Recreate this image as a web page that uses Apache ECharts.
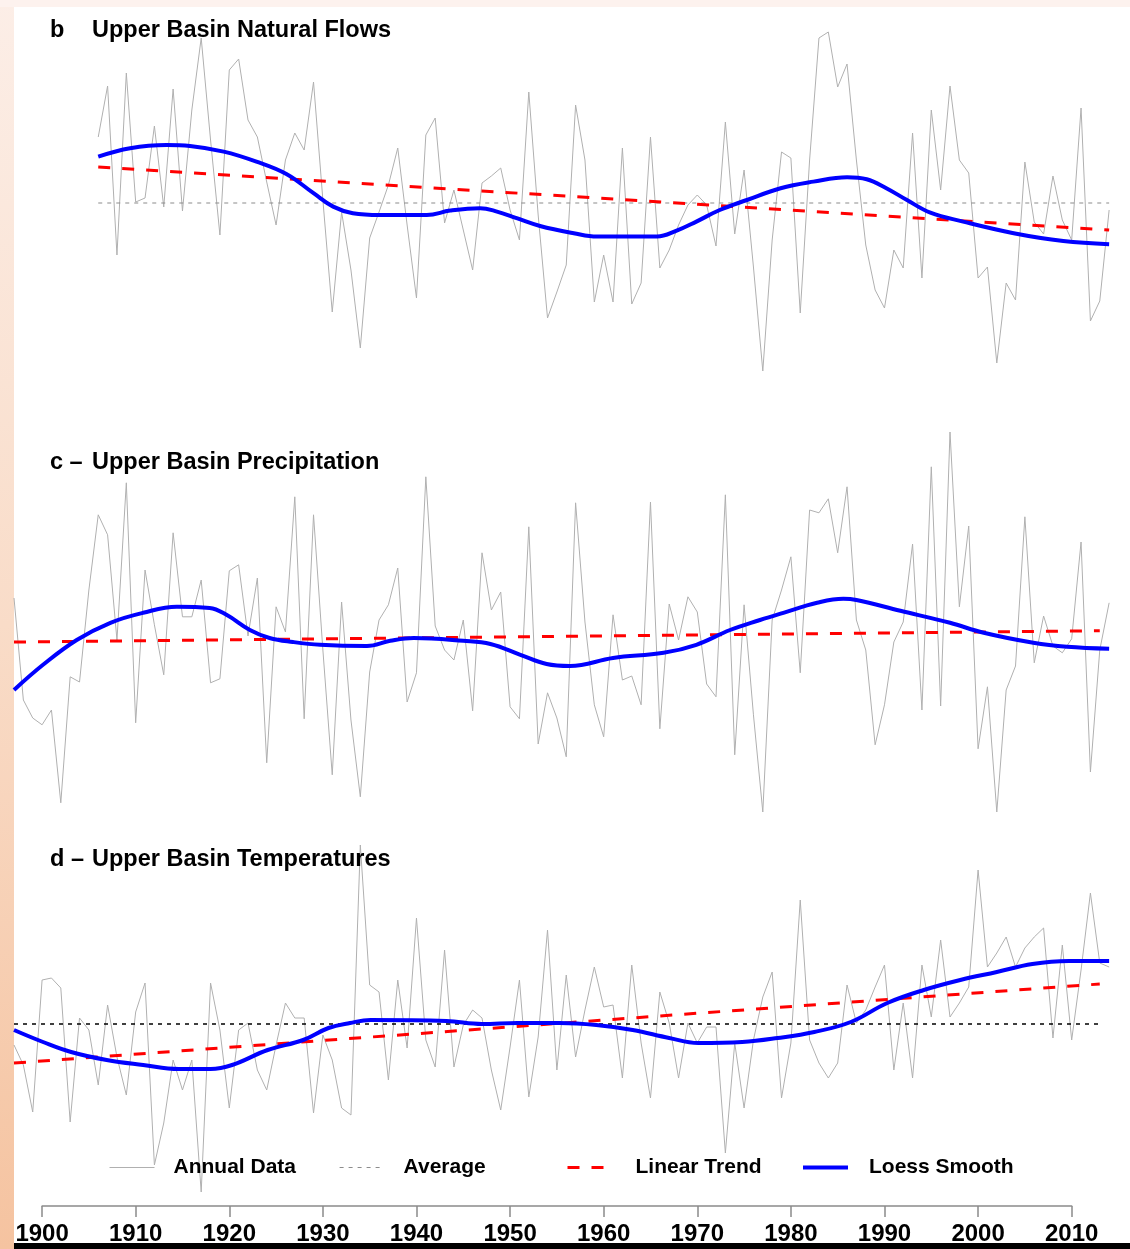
<!DOCTYPE html>
<html>
<head>
<meta charset="utf-8">
<script src="https://cdn.jsdelivr.net/npm/echarts@6/dist/echarts.min.js"></script>
<style>
html,body{margin:0;padding:0;}
body{width:1130px;height:1249px;position:relative;overflow:hidden;
  background:linear-gradient(to bottom,#FCEEE7 0%,#F9DCC8 50%,#F5C3A0 100%);}
#topstrip{position:absolute;left:0;top:0;width:1130px;height:7px;background:#FDF2EE;}
#bg{position:absolute;left:14px;top:7px;width:1116px;height:1242px;background:#ffffff;}
#chart{position:absolute;left:0;top:0;width:1130px;height:1249px;}
</style>
</head>
<body>
<div id="topstrip"></div>
<div id="bg"></div>
<div id="chart"></div>
<script>
// ---------- DATA ----------
// b - Upper Basin natural flows (MAF), 1906-2014
const flowStart = 1906;
const flowMAF = [
  18.30,20.85,12.40,21.50,15.05,15.25,18.85,14.80,20.70,14.60,
  19.65,23.25,18.15,13.40,21.65,22.20,19.15,18.30,16.05,13.90,
  17.15,18.50,17.65,21.05,15.15,9.55,14.55,11.65,7.75,13.25,
  14.55,15.90,17.75,13.90,10.25,18.40,19.25,14.00,15.65,13.65,
  11.65,16.00,16.35,16.75,14.65,13.15,20.55,14.40,9.25,10.55,
  11.90,19.90,17.15,10.05,12.40,10.05,17.75,9.95,11.00,18.30,
  11.75,12.65,13.90,14.90,15.40,14.90,12.85,19.05,13.45,16.65,
  11.80,6.60,13.15,17.55,17.25,9.50,17.15,23.25,23.55,20.80,
  21.95,17.15,12.90,10.65,9.75,12.65,11.75,18.50,11.25,19.65,
  15.65,20.85,17.15,16.50,11.25,11.80,7.00,11.00,10.15,17.05,
  14.05,13.45,16.35,14.15,13.15,19.75,9.10,10.10,14.65
];
const flowLoessYears = [1906,1909.4,1913.3,1915.8,1919.4,1922.9,1926.1,1929.0,1931.1,1933.2,1936.1,1941.1,1943.6,1946.8,1948.6,1950.7,1953.2,1956.8,1959.3,1965.7,1967.8,1969.9,1972.4,1975.3,1978.9,1982.4,1986.0,1988.1,1990.2,1992.4,1994.9,1998.4,2003.8,2009.1,2014];
const flowLoess = [17.32,17.74,17.90,17.85,17.57,17.07,16.45,15.49,14.82,14.49,14.40,14.40,14.62,14.74,14.57,14.24,13.85,13.49,13.32,13.32,13.62,14.07,14.65,15.15,15.74,16.07,16.29,16.19,15.74,15.15,14.52,14.07,13.49,13.10,12.94];
const flowTrendYears = [1906, 2014];
const flowTrend = [16.80, 13.65];
const flowAvgYears = [1906, 2014];
const flowAvg = [15.0, 15.0];

// c - Upper Basin precipitation (in), 1897-2014
const precipStart = 1897;
const precipIn = [
  17.05,14.50,14.05,13.88,14.25,11.93,15.08,14.95,17.25,19.13,
  18.63,16.00,19.93,13.93,17.75,16.38,15.13,18.68,16.58,16.58,
  17.50,14.93,15.03,17.73,17.88,16.10,17.55,12.93,16.83,16.20,
  19.58,14.03,19.13,15.75,12.63,16.95,14.00,12.08,15.20,16.50,
  16.88,17.80,14.45,15.18,20.08,16.35,15.75,15.50,16.50,14.23,
  18.18,16.75,17.20,14.33,14.03,18.83,13.40,14.68,14.05,13.08,
  19.43,16.45,14.38,13.58,16.63,15.00,15.10,14.38,19.45,13.78,
  16.90,16.00,17.08,16.70,14.90,14.58,19.63,13.13,16.88,14.13,
  11.70,16.50,17.25,18.08,15.18,19.25,19.18,19.53,18.18,19.83,
  16.50,15.75,13.38,14.38,15.95,16.45,18.40,14.25,20.33,14.35,
  21.20,16.83,18.85,13.28,14.83,11.70,14.75,15.35,19.08,15.43,
  16.60,15.85,15.68,16.03,18.45,12.70,15.75,16.93
];
const precipLoessYears = [1897.0,1900.1,1903.7,1907.3,1910.8,1914.4,1917.9,1919.7,1922.2,1924.3,1926.8,1929.7,1934.7,1937.2,1939.7,1945.0,1947.9,1951.1,1953.9,1956.4,1961.0,1966.4,1969.9,1973.5,1976.7,1979.2,1982.8,1985.6,1987.0,1991.7,1997.0,2000.6,2005.9,2009.5,2014];
const precipLoess = [14.75,15.38,16.00,16.43,16.68,16.83,16.80,16.63,16.25,16.05,15.95,15.88,15.85,15.98,16.05,15.98,15.90,15.63,15.40,15.35,15.55,15.68,15.88,16.25,16.50,16.68,16.93,17.03,17.00,16.73,16.43,16.18,15.93,15.83,15.78];
const precipTrendYears = [1897, 2013];
const precipTrend = [15.95, 16.23];

// d - Upper Basin temperatures (deg F), 1897-2014
const tempStart = 1897;
const tempF = [
  39.58,39.18,38.24,40.88,40.92,40.72,38.04,40.12,39.88,38.78,
  40.38,39.34,38.58,40.24,40.82,37.18,38.02,39.28,38.68,39.28,
  36.64,40.82,39.88,38.32,39.88,40.02,39.08,38.68,39.58,40.42,
  40.12,40.12,38.22,39.78,39.28,38.32,38.18,43.58,40.78,40.64,
  38.88,40.88,39.52,42.12,39.68,39.14,41.48,39.14,39.98,40.28,
  40.12,39.08,38.28,39.54,40.88,38.54,39.74,41.88,39.08,40.98,
  39.34,40.28,41.14,40.34,40.38,38.92,41.18,39.62,38.52,40.64,
  40.02,38.92,40.02,39.62,39.94,39.94,37.42,39.62,38.32,39.68,
  40.54,41.04,38.52,39.62,42.48,39.68,39.22,38.92,39.22,40.78,
  40.02,40.28,40.74,41.18,39.08,40.42,38.92,41.18,40.14,41.68,
  40.14,40.42,40.74,43.08,41.14,41.42,41.74,41.14,41.52,41.74,
  41.92,39.72,41.58,39.68,41.08,42.62,41.22,41.14
];
const tempLoessYears = [1897.0,1900.1,1903.1,1906.9,1910.8,1914.6,1918.0,1920.3,1924.1,1927.9,1930.6,1932.9,1935.1,1943.2,1947.0,1950.8,1955.3,1959.2,1963.1,1967.0,1970.1,1974.8,1978.6,1982.5,1986.4,1990.3,1994.2,1998.1,2002.0,2005.8,2009.7,2014];
const tempLoess = [39.88,39.64,39.44,39.28,39.18,39.10,39.10,39.18,39.48,39.68,39.92,40.02,40.08,40.06,40.00,40.02,40.02,39.98,39.88,39.72,39.62,39.64,39.72,39.84,40.04,40.42,40.68,40.88,41.04,41.20,41.26,41.26];
const tempTrendYears = [1897, 2013];
const tempTrend = [39.22, 40.80];
const tempAvgYears = [1897, 2013];
const tempAvg = [40.0, 40.0];

// axis tick labels
const tickYears = [1900,1910,1920,1930,1940,1950,1960,1970,1980,1990,2000,2010];

const panelTitles = [
  ['b', 'Upper Basin Natural Flows'],
  ['c \u2013', 'Upper Basin Precipitation'],
  ['d \u2013', 'Upper Basin Temperatures']
];
const legendNames = ['Annual Data', 'Average', 'Linear Trend', 'Loess Smooth'];

// ---------- HELPERS ----------
function series(start, vals){ return vals.map((v,i)=>[start+i, v]); }
function zip(xs, ys){ return xs.map((x,i)=>[x, ys[i]]); }

const FONT = '"Liberation Sans", Arial, sans-serif';
const GREY = '#b0b0b0';
const BLUE = '#0000ff';
const RED = '#ff0000';

const X_MIN = 1897.0, X_MAX = 2016.23;
const panels = [
  {top:7, height:400, min:4.8, max:24.8},
  {top:420, height:400, min:11.5, max:21.5},
  {top:830, height:400, min:35.88, max:43.88}
];

const grids = panels.map(p => ({left:14, width:1116, top:p.top, height:p.height}));
grids.push({left:42.1, width:1029.6, top:1106, height:100});

const xAxes = panels.map((p,i) => ({gridIndex:i, type:'value', min:X_MIN, max:X_MAX, show:false}));
xAxes.push({
  gridIndex:3, type:'value', min:1900, max:2010, interval:10,
  axisLine:{show:true, lineStyle:{color:'#8a8a8a', width:1.5}},
  axisTick:{show:true, length:11, lineStyle:{color:'#8a8a8a', width:1.5}},
  splitLine:{show:false},
  axisLabel:{show:true, fontSize:24, fontWeight:'bold', color:'#000', fontFamily:FONT, margin:16,
    formatter: v => tickYears.indexOf(v) >= 0 ? String(v) : ''}
});
const yAxes = panels.map((p,i) => ({gridIndex:i, type:'value', min:p.min, max:p.max, show:false}));
yAxes.push({gridIndex:3, type:'value', min:0, max:1, show:false});

function annual(idx, data){
  return {name:'Annual Data', type:'line', xAxisIndex:idx, yAxisIndex:idx, data:data,
    symbol:'none', lineStyle:{color:GREY, width:1}, itemStyle:{color:GREY}, z:2, animation:false, silent:true};
}
function avgLine(idx, data, color, dash, w){
  return {name:'Average', type:'line', xAxisIndex:idx, yAxisIndex:idx, data:data,
    symbol:'none', lineStyle:{color:color, width:w, type:dash}, itemStyle:{color:color}, z:3, animation:false, silent:true};
}
function trendLine(idx, data){
  return {name:'Linear Trend', type:'line', xAxisIndex:idx, yAxisIndex:idx, data:data,
    symbol:'none', lineStyle:{color:RED, width:3, type:[12,12]}, itemStyle:{color:RED}, z:4, animation:false, silent:true};
}
function loessLine(idx, data){
  return {name:'Loess Smooth', type:'line', xAxisIndex:idx, yAxisIndex:idx, data:data, smooth:0.4,
    symbol:'none', lineStyle:{color:BLUE, width:4}, itemStyle:{color:BLUE}, z:5, animation:false, silent:true};
}

const allSeries = [
  annual(0, series(flowStart, flowMAF)),
  avgLine(0, zip(flowAvgYears, flowAvg), '#8c8c8c', [4,5], 1.2),
  trendLine(0, zip(flowTrendYears, flowTrend)),
  loessLine(0, zip(flowLoessYears, flowLoess)),

  annual(1, series(precipStart, precipIn)),
  trendLine(1, zip(precipTrendYears, precipTrend)),
  loessLine(1, zip(precipLoessYears, precipLoess)),

  annual(2, series(tempStart, tempF)),
  avgLine(2, zip(tempAvgYears, tempAvg), '#000000', [4,5], 1.6),
  trendLine(2, zip(tempTrendYears, tempTrend)),
  loessLine(2, zip(tempLoessYears, tempLoess))
];

const titleTops = [19, 451, 848];
const titles = [];
panelTitles.forEach((t,i) => {
  const ts = {fontSize:23.5, fontWeight:'bold', color:'#000', fontFamily:FONT};
  titles.push({text:t[0], left:50, top:titleTops[i], padding:0, textStyle:ts});
  titles.push({text:t[1], left:92, top:titleTops[i], padding:0, textStyle:ts});
});

const legendLefts = [109, 339, 566, 801];
const legendWidthsPx = [45, 45, 42, 45];
const legendTextPad = [14, 14, 21, 16];
const legendLineW = [1, 1.2, 3, 4];
const legends = legendNames.map((n,i) => ({
  data:[n], left:legendLefts[i], top:1157, padding:0, orient:'horizontal',
  itemWidth:legendWidthsPx[i], itemHeight:22, selectedMode:false,
  lineStyle:{width:legendLineW[i]},
  itemStyle:{color:'rgba(0,0,0,0)', borderColor:'rgba(0,0,0,0)', borderWidth:0, opacity:0},
  textStyle:{fontSize:21, fontWeight:'bold', color:'#000', fontFamily:FONT, padding:[0,0,0,legendTextPad[i]]}
}));

const option = {
  backgroundColor:'transparent',
  animation:false,
  title: titles,
  legend: legends,
  grid: grids,
  xAxis: xAxes,
  yAxis: yAxes,
  series: allSeries,
  graphic: [
    {type:'rect', shape:{x:14, y:1243, width:1116, height:6}, style:{fill:'#000'}, z:100}
  ]
};

const chart = echarts.init(document.getElementById('chart'), null, {renderer:'canvas'});
chart.setOption(option);
</script>
</body>
</html>
